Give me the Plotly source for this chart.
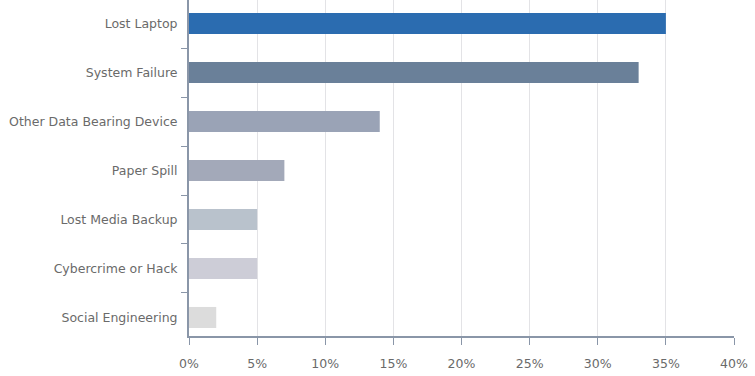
import plotly.graph_objects as go

categories = ["Lost Laptop", "System Failure", "Other Data Bearing Device", "Paper Spill",
              "Lost Media Backup", "Cybercrime or Hack", "Social Engineering"]
values = [35, 33, 14, 7, 5, 5, 2]
colors = ["#2b6cb0", "#6a8099", "#9aa3b6", "#a3a9b9", "#b9c2cc", "#cdcdd7", "#dcdcdc"]
x_ticks = [0, 5, 10, 15, 20, 25, 30, 35, 40]
x_labels = [f"{v}%" for v in x_ticks]

fig = go.Figure(go.Bar(
    x=values, y=categories, orientation="h",
    marker=dict(color=colors, line=dict(width=0)),
    width=0.43,
))
fig.update_layout(
    width=755, height=376,
    margin=dict(l=189, r=21, t=0, b=40, autoexpand=False),
    plot_bgcolor="white", paper_bgcolor="white",
    font=dict(family="DejaVu Sans, Liberation Sans, Arial, sans-serif", size=12.5,
              color="#6a6a6a"),
    showlegend=False,
)
fig.update_xaxes(
    range=[0, 40], tickvals=x_ticks, ticktext=x_labels,
    showgrid=True, gridcolor="#e3e3e6", gridwidth=1,
    showline=True, linecolor="#8a96a8", linewidth=2,
    ticks="outside", ticklen=7, tickcolor="#8a96a8", tickwidth=1,
    zeroline=False, automargin=False, ticklabelstandoff=8,
)
fig.update_yaxes(
    categoryorder="array", categoryarray=categories[::-1],
    range=[-0.378, 6.48],
    showline=True, linecolor="#8a96a8", linewidth=2,
    ticks="outside", ticklen=6, tickcolor="#8a96a8", tickson="boundaries",
    showgrid=False, automargin=False, ticklabelstandoff=7,
)
fig.write_html("out.html", post_script="document.body.style.margin='0';",
               config={"displayModeBar": False})
